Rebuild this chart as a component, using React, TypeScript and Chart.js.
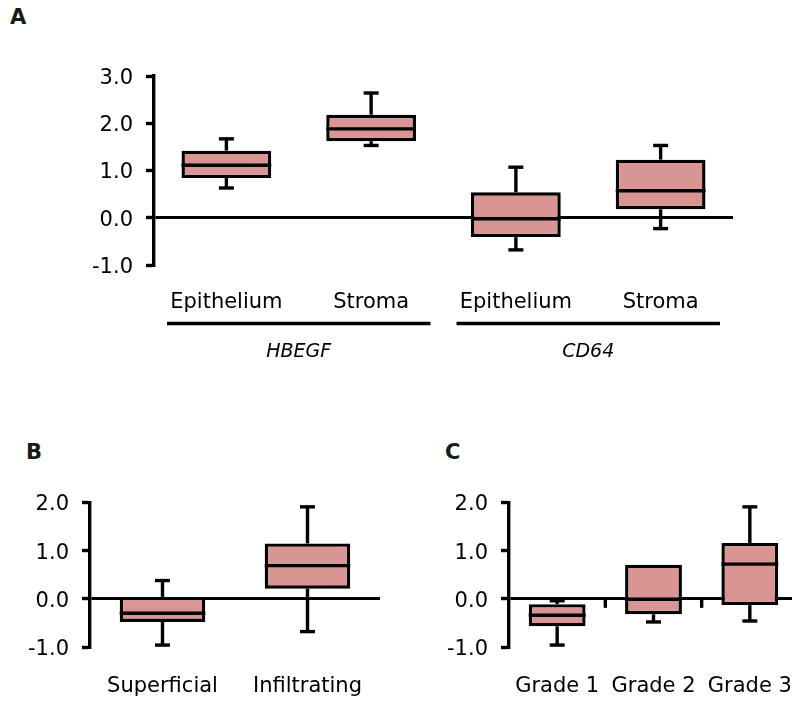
import React, { useEffect, useRef } from 'react';
import { Chart, registerables } from 'chart.js';
Chart.register(...registerables);

const FONT = '"DejaVu Sans", "Liberation Sans", sans-serif';
const FILL = '#D99594';
const LW = 3.4;

// Panel A
const catsA = ['Epithelium', 'Stroma', 'Epithelium', 'Stroma'];
const groupNamesA = ['HBEGF', 'CD64'];
const groupOfA = [0, 0, 1, 1];
const minA = [0.63, 1.53, -0.68, -0.23];
const q1A = [0.84, 1.62, -0.41, 0.18];
const medA = [1.11, 1.88, -0.02, 0.57];
const q3A = [1.42, 2.18, 0.54, 1.23];
const maxA = [1.67, 2.64, 1.07, 1.53];
const yRangeA = [-1, 3];

// Panel B
const catsB = ['Superficial', 'Infiltrating'];
const minB = [-0.96, -0.68];
const q1B = [-0.48, 0.21];
const medB = [-0.3, 0.69];
const q3B = [0.04, 1.15];
const maxB = [0.38, 1.91];
const yRangeB = [-1, 2];

// Panel C
const catsC = ['Grade 1', 'Grade 2', 'Grade 3'];
const minC = [-0.96, -0.48, -0.46];
const q1C = [-0.57, -0.32, -0.13];
const medC = [-0.34, -0.01, 0.72];
const q3C = [-0.11, 0.71, 1.16];
const maxC = [-0.04, 0.71, 1.91];
const yRangeC = [-1, 2];

type Stats = { mins: number[]; q1s: number[]; meds: number[]; q3s: number[]; maxs: number[] };

function makeBoxPlugin(s: Stats) {
  return {
    id: 'boxWhiskers',
    afterDatasetsDraw(chart: any) {
      const ctx = chart.ctx;
      const ys = chart.scales.y;
      const meta = chart.getDatasetMeta(0);
      ctx.save();
      ctx.strokeStyle = '#000';
      ctx.lineWidth = LW;
      ctx.lineCap = 'butt';
      const line = (x1: number, y1: number, x2: number, y2: number) => {
        ctx.beginPath();
        ctx.moveTo(x1, y1);
        ctx.lineTo(x2, y2);
        ctx.stroke();
      };
      meta.data.forEach((bar: any, i: number) => {
        const { x, width } = bar.getProps(['x', 'width'], true);
        const yMin = ys.getPixelForValue(s.mins[i]);
        const yMax = ys.getPixelForValue(s.maxs[i]);
        const yQ1 = ys.getPixelForValue(s.q1s[i]);
        const yQ3 = ys.getPixelForValue(s.q3s[i]);
        const yMed = ys.getPixelForValue(s.meds[i]);
        if (yMax < yQ3) {
          line(x, yQ3, x, yMax);
          line(x - 7.5, yMax, x + 7.5, yMax);
        }
        if (yMin > yQ1) {
          line(x, yQ1, x, yMin);
          line(x - 7.5, yMin, x + 7.5, yMin);
        }
        line(x - width / 2, yMed, x + width / 2, yMed);
      });
      ctx.restore();
    },
  };
}

function makeGroupPlugin(names: string[], groupOf: number[]) {
  return {
    id: 'groupLabels',
    afterDraw(chart: any) {
      const ctx = chart.ctx;
      const xs = chart.scales.x;
      const bottom = chart.chartArea.bottom;
      const step = xs.getPixelForValue(1) - xs.getPixelForValue(0);
      ctx.save();
      names.forEach((name, g) => {
        const idx = groupOf.map((v, i) => (v === g ? i : -1)).filter((i) => i >= 0);
        const x0 = xs.getPixelForValue(idx[0]) - 0.41 * step;
        const x1 = xs.getPixelForValue(idx[idx.length - 1]) + 0.41 * step;
        ctx.strokeStyle = '#000';
        ctx.lineWidth = LW;
        ctx.beginPath();
        ctx.moveTo(x0, bottom + 58.5);
        ctx.lineTo(x1, bottom + 58.5);
        ctx.stroke();
        ctx.fillStyle = '#000';
        ctx.font = 'italic 19px ' + FONT;
        ctx.textAlign = 'center';
        ctx.textBaseline = 'middle';
        ctx.fillText(name, (x0 + x1) / 2, bottom + 87);
      });
      ctx.restore();
    },
  };
}

const separatorPlugin = {
  id: 'catSeparators',
  afterDraw(chart: any) {
    const ctx = chart.ctx;
    const xs = chart.scales.x;
    const y0 = chart.scales.y.getPixelForValue(0);
    const n = chart.data.labels.length;
    ctx.save();
    ctx.strokeStyle = '#000';
    ctx.lineWidth = LW;
    for (let i = 1; i < n; i++) {
      const xb = (xs.getPixelForValue(i - 1) + xs.getPixelForValue(i)) / 2;
      ctx.beginPath();
      ctx.moveTo(xb, y0);
      ctx.lineTo(xb, y0 + 9);
      ctx.stroke();
    }
    ctx.restore();
  },
};

type PanelProps = {
  left: number;
  top: number;
  width: number;
  height: number;
  cats: string[];
  stats: Stats;
  yRange: number[];
  pad: { top: number; right: number };
  yWidth: number;
  xHeight: number;
  xPad: number;
  barPct: number;
  extra: any[];
};

function BoxPanel(p: PanelProps) {
  const ref = useRef<HTMLCanvasElement | null>(null);
  useEffect(() => {
    if (!ref.current) return;
    const chart = new Chart(ref.current, {
      type: 'bar',
      data: {
        labels: p.cats,
        datasets: [
          {
            data: p.cats.map((_, i) => [p.stats.q1s[i], p.stats.q3s[i]]) as any,
            backgroundColor: FILL,
            borderColor: '#000',
            borderWidth: LW,
            borderSkipped: false,
            barPercentage: p.barPct,
            categoryPercentage: 1,
          },
        ],
      },
      options: {
        responsive: false,
        animation: false,
        events: [],
        layout: { padding: { top: p.pad.top, right: p.pad.right, left: 0, bottom: 0 } },
        plugins: { legend: { display: false }, tooltip: { enabled: false } },
        scales: {
          x: {
            grid: { display: false },
            border: { display: false },
            ticks: {
              color: '#000',
              font: { family: FONT, size: 21 },
              padding: p.xPad,
              maxRotation: 0,
              autoSkip: false,
            },
            afterFit: (s: any) => {
              s.height = p.xHeight;
            },
          },
          y: {
            min: p.yRange[0],
            max: p.yRange[1],
            z: 1,
            border: { display: true, color: '#000', width: LW },
            grid: {
              drawOnChartArea: true,
              color: (c: any) => (c.tick && c.tick.value === 0 ? '#000' : 'rgba(0,0,0,0)'),
              lineWidth: 3,
              tickLength: 8,
              tickColor: '#000',
              tickWidth: LW,
            },
            ticks: {
              stepSize: 1,
              color: '#000',
              font: { family: FONT, size: 21 },
              padding: 13,
              labelOffset: 2.5,
              callback: (v: any) => Number(v).toFixed(1),
            },
            afterFit: (s: any) => {
              s.width = p.yWidth;
            },
          },
        },
      } as any,
      plugins: [makeBoxPlugin(p.stats), ...p.extra],
    });
    return () => chart.destroy();
  }, []);
  return (
    <canvas
      ref={ref}
      width={p.width}
      height={p.height}
      style={{ position: 'absolute', left: p.left, top: p.top, width: p.width, height: p.height }}
    />
  );
}

const letter = (left: number, top: number): React.CSSProperties => ({
  position: 'absolute',
  left,
  top,
  font: 'bold 21px ' + FONT,
  lineHeight: '21px',
  color: '#1a1a1a',
});

export default function App() {
  return (
    <div
      style={{
        position: 'absolute',
        left: 0,
        top: 0,
        width: 792,
        height: 701,
        overflow: 'hidden',
        background: '#fff',
      }}
    >
      <div style={letter(10, 7)}>A</div>
      <div style={letter(26, 442)}>B</div>
      <div style={letter(445, 442)}>C</div>
      <BoxPanel
        left={0}
        top={40}
        width={792}
        height={330}
        cats={catsA}
        stats={{ mins: minA, q1s: q1A, meds: medA, q3s: q3A, maxs: maxA }}
        yRange={yRangeA}
        pad={{ top: 36, right: 59 }}
        yWidth={154}
        xHeight={105}
        xPad={17}
        barPct={0.62}
        extra={[makeGroupPlugin(groupNamesA, groupOfA)]}
      />
      <BoxPanel
        left={0}
        top={440}
        width={400}
        height={261}
        cats={catsB}
        stats={{ mins: minB, q1s: q1B, meds: medB, q3s: q3B, maxs: maxB }}
        yRange={yRangeB}
        pad={{ top: 62.5, right: 20 }}
        yWidth={90}
        xHeight={54}
        xPad={19}
        barPct={0.59}
        extra={[]}
      />
      <BoxPanel
        left={400}
        top={440}
        width={430}
        height={261}
        cats={catsC}
        stats={{ mins: minC, q1s: q1C, meds: medC, q3s: q3C, maxs: maxC }}
        yRange={yRangeC}
        pad={{ top: 62.5, right: 32 }}
        yWidth={109}
        xHeight={54}
        xPad={19}
        barPct={0.59}
        extra={[separatorPlugin]}
      />
    </div>
  );
}
